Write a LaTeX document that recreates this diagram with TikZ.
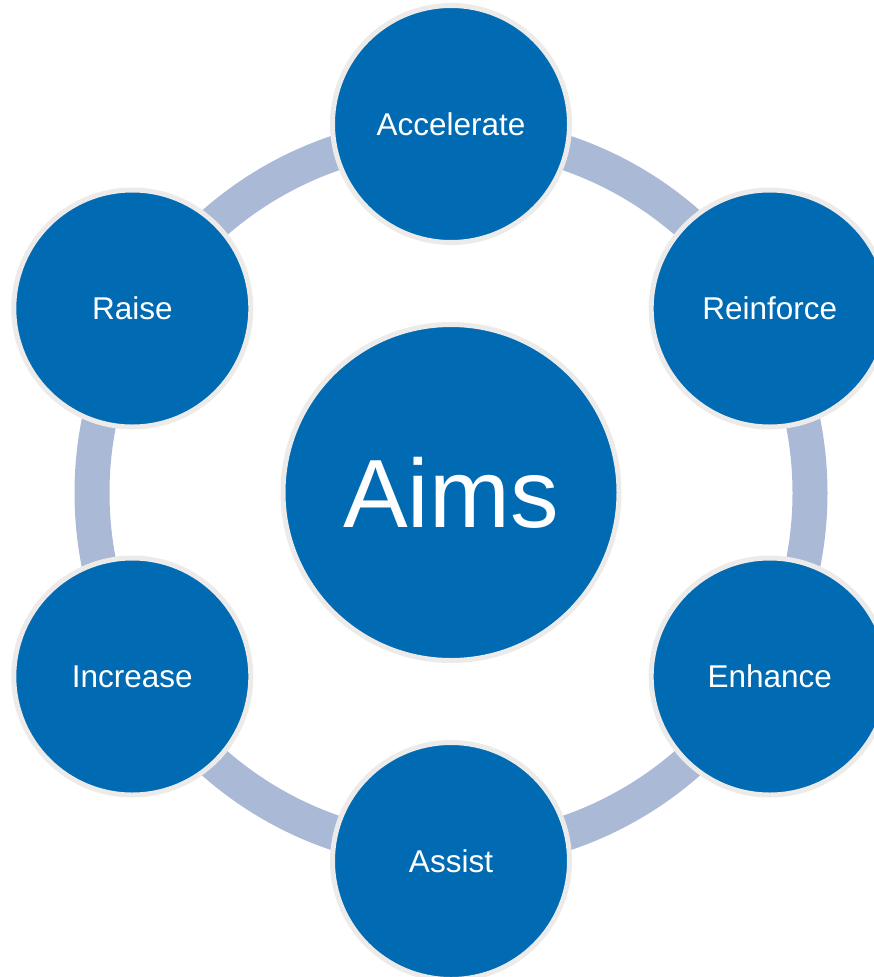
\documentclass[tikz,border=0pt]{standalone}
\usepackage{fontspec}
\setmainfont{Liberation Sans}
\definecolor{aimblue}{HTML}{006AB2}
\definecolor{aimborder}{HTML}{EDEBE9}
\definecolor{aimring}{HTML}{A9B9D6}
\begin{document}
\begin{tikzpicture}[x=1pt,y=-1pt,
  ringband/.style={draw=aimring,line width=35pt},
  hub/.style={circle,fill=aimblue,draw=aimborder,line width=5pt,minimum size=336pt,inner sep=0pt,text=white,font=\fontsize{97}{110}\selectfont},
  sat/.style={circle,fill=aimblue,draw=aimborder,line width=5pt,minimum size=237pt,inner sep=0pt,text=white,font=\fontsize{31.5}{36}\selectfont}]
\useasboundingbox (0,0) rectangle (873,977);
\coordinate (c) at (451,493);
\draw[ringband] (c) circle[radius=359];
\node[hub] (aims) at (451,492.5) {Aims};
\node[sat] (acc) at (451,124) {Accelerate};
\node[sat] (rei) at (769.7,308.5) {Reinforce};
\node[sat] (enh) at (769.7,676.5) {Enhance};
\node[sat] (ass) at (451,861) {Assist};
\node[sat] (inc) at (132.3,676.5) {Increase};
\node[sat] (rai) at (132.3,308.5) {Raise};
\end{tikzpicture}
\end{document}
